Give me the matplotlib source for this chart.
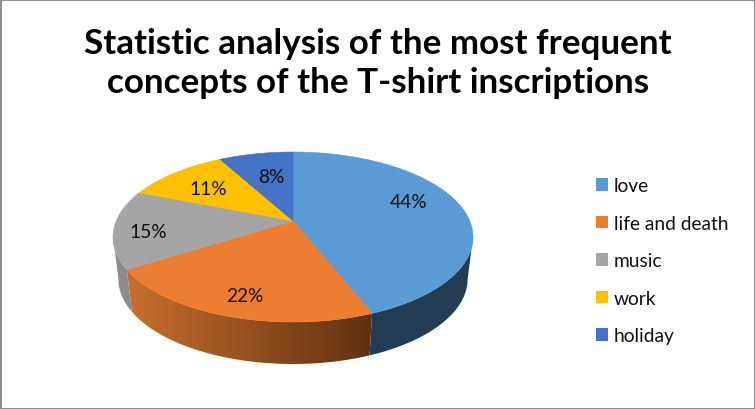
import numpy as np
import matplotlib
matplotlib.use('Agg')
import matplotlib.pyplot as plt
from matplotlib.colors import to_rgb
from matplotlib.patches import Patch, Polygon, Rectangle

plt.rcParams['font.family'] = ['Lato', 'DejaVu Sans']

# Данные
categories = ['love', 'life and death', 'music', 'work', 'holiday']
shares = [44, 22, 15, 11, 8]
colors = ['#5B9BD5', '#ED7D31', '#A5A5A5', '#FFC000', '#4472C4']
wall_left = ['#223D55', '#C96F2D', '#8C8C8C', '#8C8C8C', '#8C8C8C']
wall_right = ['#223D55', '#5F3010', '#8C8C8C', '#8C8C8C', '#8C8C8C']
label_nudge = [(-0.03, 0.1), (0, -0.07), (-0.09, -0.06), (0, -0.03), (0.03, -0.05)]
title = 'Statistic analysis of the most frequent\nconcepts of the T-shirt inscriptions'

W, H = 755, 410
tilt = 0.19       # смещение центра из-за перспективы
depth = 42 / 85
shrink = 0.97


def project(a, r=1.0):
    # перспектива: круг переходит в тот же эллипс, центр сдвигается вверх
    x, y = r * np.sin(a), r * np.cos(a)
    d = 1 + tilt * y
    return x * np.sqrt(1 - tilt ** 2) / d, (y + tilt) / d


fig = plt.figure(figsize=(W / 100, H / 100), dpi=100)
fig.patches.append(Rectangle((0.5 / W, 0.5 / H), (W - 1) / W, (H - 1) / H, transform=fig.transFigure,
                             fill=False, edgecolor='#8E8E8E', linewidth=1.5))

# Оси с запасом снизу под стенку: y = -1.6 .. 1 при 85 px на единицу
ax = fig.add_axes([113 / W, (H - 374) / H, 360 / W, 221 / H])
ax.axis('off')
edges = np.cumsum([0] + shares) / sum(shares) * 2 * np.pi

# Боковая стенка
for i in range(len(shares)):
    a = np.linspace(edges[i], edges[i + 1], 200)
    x, y = project(a)
    keep = y <= 0.01
    if keep.sum() < 2:
        continue
    x, y = x[keep], y[keep]
    bx, by = x * shrink, y - depth
    poly = Polygon(np.column_stack([np.r_[x, bx[::-1]], np.r_[y, by[::-1]]]), closed=True,
                   facecolor='none', edgecolor='none', transform=ax.transData)
    ax.add_patch(poly)
    grad = np.linspace(to_rgb(wall_left[i]), to_rgb(wall_right[i]), 256)[None, :, :]
    im = ax.imshow(grad, extent=(min(x.min(), bx.min()), max(x.max(), bx.max()), by.min() - 0.05, y.max() + 0.05),
                   aspect='auto', zorder=2, interpolation='bilinear')
    im.set_clip_path(poly)

# Верхняя грань
for i, c in enumerate(colors):
    a = np.linspace(edges[i], edges[i + 1], 200)
    x, y = project(a)
    cx, cy = project(np.array([0.0]), 0.0)
    ax.fill(np.r_[cx, x], np.r_[cy, y], facecolor=c, edgecolor=c, linewidth=0.4, zorder=3, clip_on=False)
    # Подпись процента
    mx, my = project(np.array([(edges[i] + edges[i + 1]) / 2]))
    lx = cx[0] + (mx[0] - cx[0]) * 0.72 + label_nudge[i][0]
    ly = cy[0] + (my[0] - cy[0]) * 0.72 + label_nudge[i][1]
    ax.text(lx, ly, '%d%%' % shares[i], ha='center', va='center', fontsize=13.8, color='#111111', zorder=4)

ax.set_xlim(-1, 1)
ax.set_ylim(-1.6, 1)

fig.text(378 / W, 1 - 63.5 / H, title, ha='center', va='center', fontsize=25.2, fontweight='bold',
         color='black', linespacing=1.27)

handles = [Patch(facecolor=c, edgecolor='none') for c in colors]
fig.legend(handles, categories, loc='upper left', bbox_to_anchor=(579 / W, 1 - 161 / H), frameon=False,
           fontsize=13.8, handlelength=0.62, handleheight=0.62, handletextpad=0.3,
           labelspacing=1.07, labelcolor='#111111')

fig.savefig('out.png', dpi=100)
